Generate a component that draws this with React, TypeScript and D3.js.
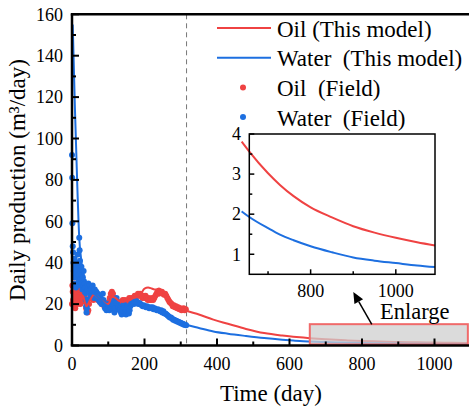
import React from 'react';
import * as d3 from 'd3';

type P = [number, number];

// Field data (day, m3/day)
const oilField: P[] = [
  [0, 20], [1, 29], [2, 26], [3, 22], [4, 28], [5, 19], [6, 25], [7, 30], [8, 23], [9, 18], [10, 27], [11, 21],
  [12, 24], [13, 29], [14, 20], [15, 25], [17, 22], [19, 27], [21, 24], [23, 20], [25, 26], [27, 23], [29, 25],
  [31, 22], [33, 27], [35, 24], [37, 21], [39, 18], [41, 17], [43, 16], [45, 17], [47, 20], [50, 23], [53, 25],
  [56, 24], [59, 22], [62, 25], [65, 26], [68, 24], [71, 22], [74, 23], [77, 21], [80, 22], [83, 20], [86, 21],
  [89, 19], [92, 20], [95, 19], [98, 20], [101, 21], [104, 23], [107, 25], [110, 26], [113, 25], [116, 23],
  [119, 21], [122, 22], [125, 20], [128, 21], [131, 19], [134, 20], [137, 21], [140, 22], [143, 21], [146, 22],
  [149, 21], [152, 20], [155, 22], [158, 23], [161, 22], [164, 23], [167, 22], [170, 23], [173, 24], [176, 23],
  [179, 24], [182, 25], [185, 24], [188, 25], [191, 24], [194, 23], [197, 24], [200, 23], [203, 24], [206, 23],
  [209, 22], [212, 23], [215, 22], [218, 22], [221, 23], [224, 22], [227, 23], [230, 24], [233, 25], [236, 26],
  [239, 25], [242, 26], [245, 25.5], [248, 26], [251, 25], [254, 24.5], [257, 25], [260, 24], [263, 23], [266, 22],
  [269, 21], [272, 20.5], [275, 20], [278, 19], [281, 19.5], [284, 18.5], [287, 19], [290, 18], [293, 18.5],
  [296, 17.5], [299, 18], [302, 17], [305, 17.5], [308, 18], [311, 17], [314, 17.5],
];

const waterField: P[] = [
  [0, 92], [0.5, 81], [1, 59], [2, 48], [3, 45], [4, 40], [5, 36], [6, 33], [7, 42], [8, 38], [9, 30], [10, 35],
  [11, 28], [12, 40], [13, 33], [14, 37], [15, 30], [16, 44], [17, 39], [18, 34], [19, 31], [20, 52], [21, 46],
  [22, 41], [23, 36], [24, 32], [25, 29], [26, 38], [27, 34], [28, 30], [29, 27], [30, 33], [31, 29], [32, 36],
  [33, 31], [34, 27], [35, 30], [36, 25], [37, 28], [38, 22], [39, 19], [40, 16], [41, 18], [42, 22], [43, 27],
  [45, 30], [47, 26], [49, 29], [51, 24], [53, 27], [55, 25], [57, 29], [59, 26], [61, 23], [63, 27], [65, 24],
  [67, 26], [69, 23], [71, 25], [73, 22], [75, 24], [77, 21], [79, 23], [81, 20], [83, 22], [85, 25], [87, 22],
  [89, 20], [91, 18], [93, 19], [95, 17], [97, 18], [99, 20], [101, 18], [103, 17], [105, 19], [107, 18],
  [109, 20], [111, 22], [113, 20], [115, 17], [117, 16], [119, 18], [121, 21], [123, 23], [125, 20], [127, 18],
  [129, 19], [131, 17], [133, 18], [135, 16], [137, 15], [139, 17], [141, 19], [143, 20], [145, 18], [147, 16],
  [149, 15], [151, 17], [153, 19], [155, 18], [157, 15.5], [159, 17], [161, 19], [163, 20], [165, 21], [168, 21],
  [171, 20], [174, 21], [177, 21.5], [180, 21], [183, 20], [186, 20.5], [189, 20], [192, 19.5], [195, 19],
  [198, 19.5], [201, 19], [204, 18.5], [207, 19], [210, 18.5], [213, 18], [216, 18.5], [219, 18], [222, 18.5],
  [225, 17.5], [228, 18], [231, 17.5], [234, 17], [237, 17.5], [240, 17], [243, 16.5], [246, 17], [249, 16],
  [252, 16.5], [255, 15.5], [258, 15.5], [261, 15], [264, 14.5], [267, 14], [270, 13.5], [273, 13.5], [276, 13],
  [279, 12.5], [282, 12.5], [285, 12], [288, 12], [291, 11.5], [294, 11.5], [297, 11], [300, 11], [303, 10.5],
  [306, 10.5], [309, 10], [312, 10], [315, 9.8],
];

// Model results (day, m3/day)
const oilModel: P[] = [
  [0, 26], [5, 24], [10, 23], [15, 25], [20, 25], [30, 24], [40, 19], [50, 22], [60, 24.5], [70, 23.5], [80, 22],
  [90, 20.5], [100, 20], [110, 23.5], [120, 23], [130, 21.5], [140, 21], [150, 21.5], [160, 22], [170, 23],
  [180, 23.5], [190, 25], [200, 27.5], [210, 28], [220, 27.5], [230, 27], [240, 27.5], [250, 26.5], [260, 25],
  [270, 22.5], [280, 20], [290, 19], [300, 18], [316, 16.8], [350, 15], [390, 12.5], [430, 10.5], [480, 8],
  [530, 6], [580, 4.8], [610, 4.25], [638, 3.81], [656, 3.56], [700, 3.02], [728, 2.73], [760, 2.45], [800, 2.17],
  [850, 1.92], [900, 1.7], [950, 1.54], [1000, 1.41], [1050, 1.3], [1092, 1.22],
];

const waterModel: P[] = [
  [2, 155], [8, 115], [15, 75], [20, 52], [25, 42], [30, 35], [35, 31], [40, 28], [50, 26], [60, 25], [70, 23.5],
  [80, 22], [90, 20], [100, 19], [110, 19.5], [120, 20], [130, 18.5], [140, 18], [150, 18], [160, 19], [170, 20.5],
  [180, 20.5], [190, 20], [200, 19], [210, 18.5], [220, 18], [230, 17.5], [240, 17], [250, 16], [260, 15],
  [270, 13.8], [280, 12.5], [290, 11.8], [300, 11], [316, 10], [350, 8.5], [390, 6.8], [430, 5.7], [480, 4.6],
  [530, 3.6], [580, 2.8], [610, 2.4], [638, 2.07], [656, 1.93], [700, 1.65], [728, 1.49], [760, 1.35], [800, 1.2],
  [850, 1.05], [900, 0.92], [950, 0.84], [1000, 0.78], [1050, 0.72], [1092, 0.68],
];

const xMajor = [0, 200, 400, 600, 800, 1000];
const xMinor = [100, 300, 500, 700, 900];
const yMajor = [0, 20, 40, 60, 80, 100, 120, 140, 160];
const yMinor = [10, 30, 50, 70, 90, 110, 130, 150];
const insetXMajor = [800, 1000];
const insetXMinor = [700, 900];
const insetYMajor = [1, 2, 3, 4];
const insetYMinor = [1.5, 2.5, 3.5];
const historyEnd = 316;
const insetStart = 638;
const enlargeBoxX = [656, 1092];
const enlargeBoxY = [0.5, 10.3];

const legendItems = [
  { label: 'Oil (This model)', kind: 'line', color: '#ef4242' },
  { label: 'Water  (This model)', kind: 'line', color: '#1d6fe0' },
  { label: 'Oil  (Field)', kind: 'dot', color: '#ef4242' },
  { label: 'Water  (Field)', kind: 'dot', color: '#1d6fe0' },
];

const RED = '#ef4242';
const BLUE = '#1d6fe0';
const FONT = "'Liberation Serif', 'Times New Roman', serif";

export default function App() {
  const W = 469, H = 415;
  const x = d3.scaleLinear().domain([0, 1100]).range([72, 470.75]);
  const y = d3.scaleLinear().domain([0, 160]).range([345.5, 14.3]);
  const ix = d3.scaleLinear().domain([656, 1092]).range([249.3, 435]);
  const iy = d3.scaleLinear().domain([0.5, 4]).range([274.3, 134]);

  const line = d3.line<P>().x(d => x(d[0])).y(d => y(d[1])).curve(d3.curveMonotoneX);
  const iline = d3.line<P>().x(d => ix(d[0])).y(d => iy(d[1])).curve(d3.curveMonotoneX);

  const [x0, x1] = x.range();
  const [yb, yt] = y.range();

  // arrow
  const tail: P = [x(827), y(10.2)];
  const tip: P = [x(776), y(25.8)];
  const ang = Math.atan2(tip[1] - tail[1], tip[0] - tail[0]);
  const hl = 11, hw = 5;
  const base: P = [tip[0] - hl * Math.cos(ang), tip[1] - hl * Math.sin(ang)];
  const head = [
    tip,
    [base[0] + hw * Math.sin(ang), base[1] - hw * Math.cos(ang)],
    [base[0] - hw * Math.sin(ang), base[1] + hw * Math.cos(ang)],
  ];

  const T = (props: any) => <text fontFamily={FONT} style={{ fontFamily: FONT, whiteSpace: 'pre' }} {...props} />;

  return (
    <svg width={W} height={H} style={{ position: 'absolute', left: 0, top: 0, background: '#fff', fontFamily: FONT }}>
      <rect width={W} height={H} fill="#fff" />
      {/* dashed divider */}
      <line x1={x(historyEnd)} x2={x(historyEnd)} y1={yt} y2={yb} stroke="#777" strokeWidth={1} strokeDasharray="5,4" />

      {/* field dots */}
      {oilField.map((d, i) => (
        <circle key={'o' + i} cx={x(d[0])} cy={y(d[1])} r={3} fill={RED} />
      ))}
      {waterField.map((d, i) => (
        <circle key={'w' + i} cx={x(d[0])} cy={y(d[1])} r={3} fill={BLUE} />
      ))}

      {/* model lines */}
      <path d={line(oilModel) || ''} fill="none" stroke={RED} strokeWidth={2} />
      <path d={line(waterModel) || ''} fill="none" stroke={BLUE} strokeWidth={2} />

      {/* enlarge box */}
      <rect x={x(enlargeBoxX[0])} y={y(enlargeBoxY[1])} width={x(enlargeBoxX[1]) - x(enlargeBoxX[0])}
        height={y(enlargeBoxY[0]) - y(enlargeBoxY[1])} fill="#cfcfcf" fillOpacity={0.75} stroke="#f06a6a" strokeWidth={2} />

      {/* axes */}
      <line x1={x0} x2={x0} y1={yt} y2={yb} stroke="#000" strokeWidth={2.5} />
      <line x1={x0 - 1.25} x2={x1} y1={yb} y2={yb} stroke="#000" strokeWidth={2.5} />
      <line x1={x0 - 1.25} x2={x1} y1={yt} y2={yt} stroke="#000" strokeWidth={2.5} />
      {xMajor.map(v => (
        <g key={'xm' + v}>
          <line x1={x(v)} x2={x(v)} y1={yb} y2={yb - 7} stroke="#000" strokeWidth={2} />
          <T x={x(v)} y={369.5} fontSize={18} textAnchor="middle">{v}</T>
        </g>
      ))}
      {xMinor.map(v => (
        <line key={'xn' + v} x1={x(v)} x2={x(v)} y1={yb} y2={yb - 4} stroke="#000" strokeWidth={2} />
      ))}
      {yMajor.map(v => (
        <g key={'ym' + v}>
          <line x1={x0} x2={x0 + 7} y1={y(v)} y2={y(v)} stroke="#000" strokeWidth={2} />
          <T x={63} y={y(v)} dy="0.35em" fontSize={18} textAnchor="end">{v}</T>
        </g>
      ))}
      {yMinor.map(v => (
        <line key={'yn' + v} x1={x0} x2={x0 + 4} y1={y(v)} y2={y(v)} stroke="#000" strokeWidth={2} />
      ))}

      {/* axis titles */}
      <T x={271} y={401} fontSize={23} textAnchor="middle">Time (day)</T>
      <T transform="translate(25,180) rotate(-90)" fontSize={23} textAnchor="middle">Daily production (m³/day)</T>

      {/* arrow + label */}
      <line x1={tail[0]} y1={tail[1]} x2={base[0]} y2={base[1]} stroke="#000" strokeWidth={1.5} />
      <polygon points={head.map(p => p.join(',')).join(' ')} fill="#000" />
      <T x={380} y={319} fontSize={22.5}>Enlarge</T>

      {/* inset */}
      <rect x={ix.range()[0]} y={iy.range()[1]} width={ix.range()[1] - ix.range()[0]} height={iy.range()[0] - iy.range()[1]} fill="#fff" />
      <path d={iline(oilModel.filter(d => d[0] >= insetStart)) || ''} fill="none" stroke={RED} strokeWidth={2} />
      <path d={iline(waterModel.filter(d => d[0] >= insetStart)) || ''} fill="none" stroke={BLUE} strokeWidth={2} />
      <rect x={ix.range()[0]} y={iy.range()[1]} width={ix.range()[1] - ix.range()[0]} height={iy.range()[0] - iy.range()[1]} fill="none" stroke="#000" strokeWidth={1.5} />
      {insetXMajor.map(v => (
        <g key={'ixm' + v}>
          <line x1={ix(v)} x2={ix(v)} y1={iy.range()[0]} y2={iy.range()[0] - 5} stroke="#000" strokeWidth={1.5} />
          <T x={ix(v)} y={296.5} fontSize={18} textAnchor="middle">{v}</T>
        </g>
      ))}
      {insetXMinor.map(v => (
        <line key={'ixn' + v} x1={ix(v)} x2={ix(v)} y1={iy.range()[0]} y2={iy.range()[0] - 3} stroke="#000" strokeWidth={1.5} />
      ))}
      {insetYMajor.map(v => (
        <g key={'iym' + v}>
          <line x1={ix.range()[0]} x2={ix.range()[0] + 5} y1={iy(v)} y2={iy(v)} stroke="#000" strokeWidth={1.5} />
          <T x={241} y={iy(v)} dy="0.35em" fontSize={18} textAnchor="end">{v}</T>
        </g>
      ))}
      {insetYMinor.map(v => (
        <line key={'iyn' + v} x1={ix.range()[0]} x2={ix.range()[0] + 3} y1={iy(v)} y2={iy(v)} stroke="#000" strokeWidth={1.5} />
      ))}

      {/* legend */}
      {legendItems.map((it, i) => {
        const cy = 28 + i * 29.7;
        return (
          <g key={'lg' + i}>
            {it.kind === 'line'
              ? <line x1={217} x2={271} y1={cy} y2={cy} stroke={it.color} strokeWidth={2} />
              : <circle cx={243} cy={cy} r={3} fill={it.color} />}
            <T x={277} y={cy + 8.5} fontSize={23}>{it.label}</T>
          </g>
        );
      })}
    </svg>
  );
}
